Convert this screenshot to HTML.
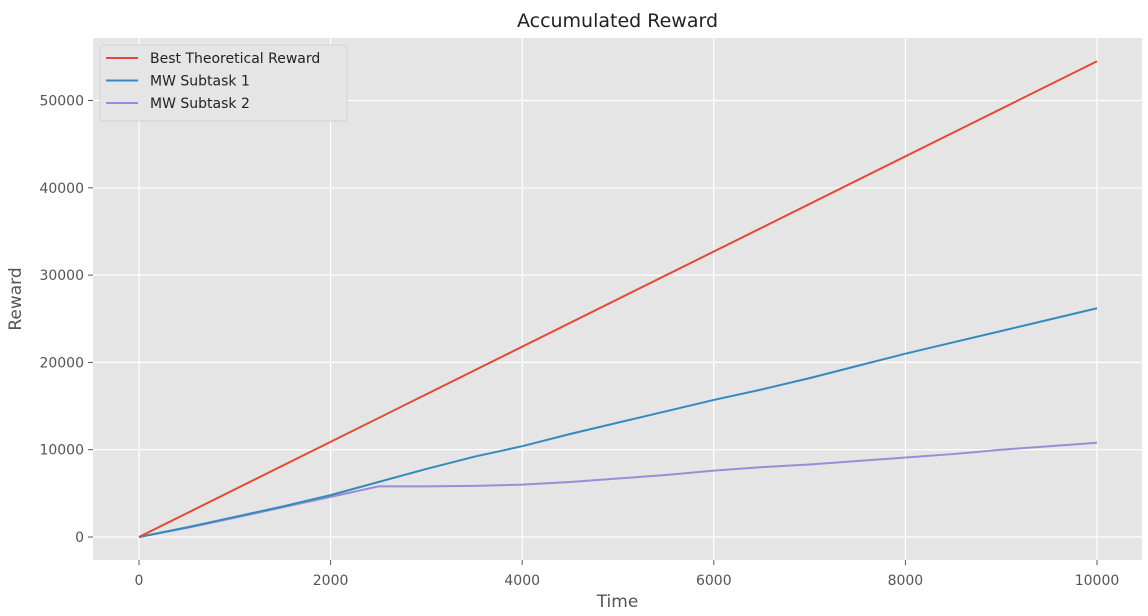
<!DOCTYPE html>
<html><head><meta charset="utf-8"><style>
body{margin:0;background:#fff;font-family:"Liberation Sans","DejaVu Sans",sans-serif;}
svg text{font-family:"DejaVu Sans","Liberation Sans",sans-serif;}
</style></head><body>
<svg id="chart" width="1148" height="611" xmlns="http://www.w3.org/2000/svg"></svg>
<script>
const xTicks=[0,2000,4000,6000,8000,10000];
const yTicks=[0,10000,20000,30000,40000,50000];
const redX=[0,10000];
const redY=[0,54500];
const blueX=[0,500,1000,1500,2000,2500,3000,3500,4000,4500,5000,5500,6000,6500,7000,7500,8000,8500,9000,9500,10000];
const blueY=[0,1100,2300,3500,4800,6300,7800,9200,10400,11800,13100,14400,15700,16900,18200,19600,21000,22300,23600,24900,26200];
const purpleX=[0,500,1000,1500,2000,2500,3000,3500,4000,4500,5000,5500,6000,6500,7000,7500,8000,8500,9000,9500,10000];
const purpleY=[0,1050,2200,3400,4600,5800,5800,5850,6000,6300,6700,7100,7600,8000,8300,8700,9100,9500,10000,10400,10800];
const svg=document.getElementById('chart');
const NS='http://www.w3.org/2000/svg';
const L=93,R=1142,T=38,B=560;
const sx=v=>139+v*(1097-139)/10000;
const sy=v=>537-v*(537-100.5)/50000;
function mk(tag,attrs,parent){const e=document.createElementNS(NS,tag);for(const k in attrs)e.setAttribute(k,attrs[k]);(parent||svg).appendChild(e);return e;}
const bg=mk('rect',{x:L,y:T,width:R-L,height:B-T,fill:'#E5E5E5'});


xTicks.forEach(t=>{
 const g=mk('line',{x1:sx(t),x2:sx(t),y1:T,y2:B,stroke:'#fff','stroke-width':1.2});
 
 
 mk('line',{x1:sx(t),x2:sx(t),y1:B,y2:B+5,stroke:'#555','stroke-width':1});
 const tx=mk('text',{x:sx(t),y:B+25,'text-anchor':'middle','font-size':14,fill:'#555'});
 tx.textContent=t;
 
 
});
yTicks.forEach(t=>{
 const g=mk('line',{x1:L,x2:R,y1:sy(t),y2:sy(t),stroke:'#fff','stroke-width':1.2});
 
 
 mk('line',{x1:L-5,x2:L,y1:sy(t),y2:sy(t),stroke:'#555','stroke-width':1});
 const tx=mk('text',{x:L-9,y:sy(t)+5,'text-anchor':'end','font-size':14,fill:'#555'});
 tx.textContent=t;
 
 
});
function line(xs,ys,color,name){
 const p=mk('polyline',{points:xs.map((x,i)=>sx(x)+','+sy(ys[i])).join(' '),fill:'none',stroke:color,'stroke-width':2});
 
 
}
line(purpleX,purpleY,'#988ED5','mw-subtask-2-line');
line(blueX,blueY,'#348ABD','mw-subtask-1-line');
line(redX,redY,'#E24A33','best-theoretical-line');
const title=mk('text',{x:(L+R)/2,y:27,'text-anchor':'middle','font-size':19,fill:'#222'});
title.textContent='Accumulated Reward';


const xl=mk('text',{x:(L+R)/2,y:607,'text-anchor':'middle','font-size':17,fill:'#555'});
xl.textContent='Time';


const yl=mk('text',{x:0,y:0,'text-anchor':'middle','font-size':17,fill:'#555',transform:'translate(21,299) rotate(-90)'});
yl.textContent='Reward';


const lg=mk('g',{});


mk('rect',{x:100,y:45,width:247,height:76,rx:3,fill:'#E5E5E5',stroke:'#d0d0d0','stroke-opacity':0.8},lg);
[['Best Theoretical Reward','#E24A33'],['MW Subtask 1','#348ABD'],['MW Subtask 2','#988ED5']].forEach((e,i)=>{
 const y=58+i*22.5;
 const ent=mk('g',{},lg);
 
 
 mk('line',{x1:106,x2:138,y1:y,y2:y,stroke:e[1],'stroke-width':2},ent);
 const t=mk('text',{x:150,y:y+5,'font-size':14,fill:'#222'},ent);
 t.textContent=e[0];
});
</script>
</body></html>
